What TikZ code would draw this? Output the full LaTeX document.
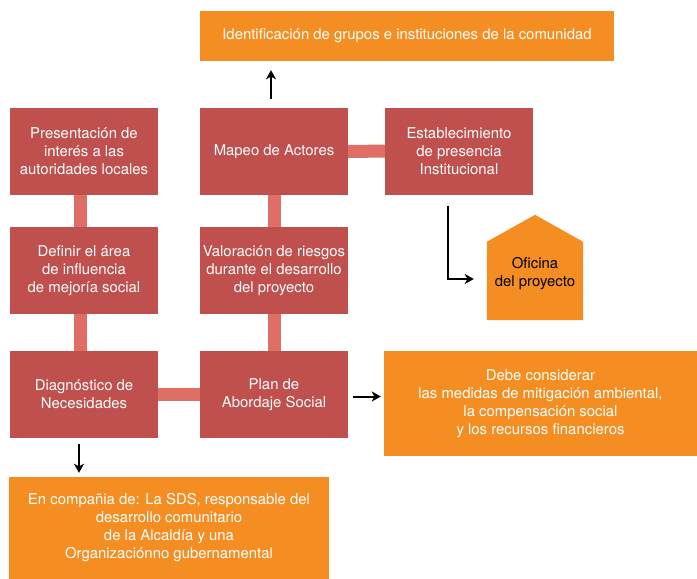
\documentclass[tikz,border=0pt]{standalone}
\usepackage{fontspec}
\setmainfont{TeX Gyre Heros}
\usetikzlibrary{calc,arrows.meta}
\definecolor{rojo}{RGB}{192,80,77}
\definecolor{rojoclaro}{RGB}{222,110,102}
\definecolor{naranja}{RGB}{245,142,34}
\tikzset{
    caja/.style={fill=rojo, text=white, minimum width=148pt, minimum height=87pt, inner sep=0pt, align=center, font=\fontsize{14.9}{18}\selectfont},
    nota/.style={fill=naranja, text=white, inner sep=0pt, align=center, font=\fontsize{14.9}{18}\selectfont},
    barra/.style={rojoclaro, line width=13pt},
    flecha/.style={-{Stealth[length=9pt,width=10pt,inset=2.5pt]}, line width=2pt}
}
\begin{document}
\begin{tikzpicture}[x=1pt,y=-1pt]
    \useasboundingbox (0,0) rectangle (697,579);

    %cajas rojas
    \node[caja] (presentacion) at (84,151.5) {Presentación de\\interés a las\\autoridades locales};
    \node[caja] (definir) at (84,270.5) {Definir el área\\de influencia\\de mejoría social};
    \node[caja] (diagnostico) at (84,394.5) {Diagnóstico de\\Necesidades};
    \node[caja] (mapeo) at (274,151.5) {Mapeo de Actores};
    \node[caja] (valoracion) at (274,270.5) {Valoración de riesgos\\durante el desarrollo\\del proyecto};
    \node[caja] (plan) at (274,394.5) {Plan de\\Abordaje Social};
    \node[caja] (establecimiento) at (459,151) {Establecimiento\\de presencia\\Institucional};

    %cajas naranjas
    \node[nota, minimum width=414pt, minimum height=50pt] (identificacion) at (407,36) {Identificación de grupos e instituciones de la comunidad};
    \node[nota, minimum width=313pt, minimum height=105pt] (medidas) at (540.5,403.5) {Debe considerar\\las medidas de mitigación ambiental,\\la compensación social\\y los recursos financieros};
    \node[nota, minimum width=320pt, minimum height=102pt] (compania) at (169,528) {En compañia de: La SDS, responsable del\\desarrollo comunitario\\de la Alcaldía y una\\Organizaciónno gubernamental};

    %oficina
    \node[minimum width=96pt, minimum height=78pt, inner sep=0pt] (oficina) at (535,281) {};
    \fill[naranja] (oficina.south west) -- (oficina.north west) -- ($(oficina.north)+(0,-27)$) -- (oficina.north east) -- (oficina.south east) -- cycle;
    \node[align=center, font=\fontsize{14.9}{18}\selectfont] (oficinatexto) at ($(oficina)+(0,-7)$) {Oficina\\del proyecto};

    %barras
    \draw[barra] ([xshift=-4pt]presentacion.south) -- ([xshift=-4pt]definir.north);
    \draw[barra] ([xshift=-4pt]definir.south) -- ([xshift=-4pt]diagnostico.north);
    \draw[barra] (mapeo) -- (valoracion);
    \draw[barra] (valoracion) -- (plan);
    \draw[barra] (mapeo) -- (establecimiento);
    \draw[barra] (diagnostico) -- (plan);

    %flechas
    \draw[flecha] ([shift={(-3pt,9pt)}]mapeo.north) -- ([shift={(-3pt,-9pt)}]mapeo.north |- identificacion.south);
    \draw[flecha] ([shift={(-11pt,-11pt)}]establecimiento.south) |- ([shift={(-13pt,2pt)}]oficina.west);
    \draw[flecha] ([shift={(5pt,-2pt)}]plan.east) -- ([shift={(-3pt,-2pt)}]plan.east -| medidas.west);
    \draw[flecha] ([shift={(-5pt,-6pt)}]diagnostico.south) -- ([shift={(-5pt,4pt)}]diagnostico.south |- compania.north);
\end{tikzpicture}
\end{document}
